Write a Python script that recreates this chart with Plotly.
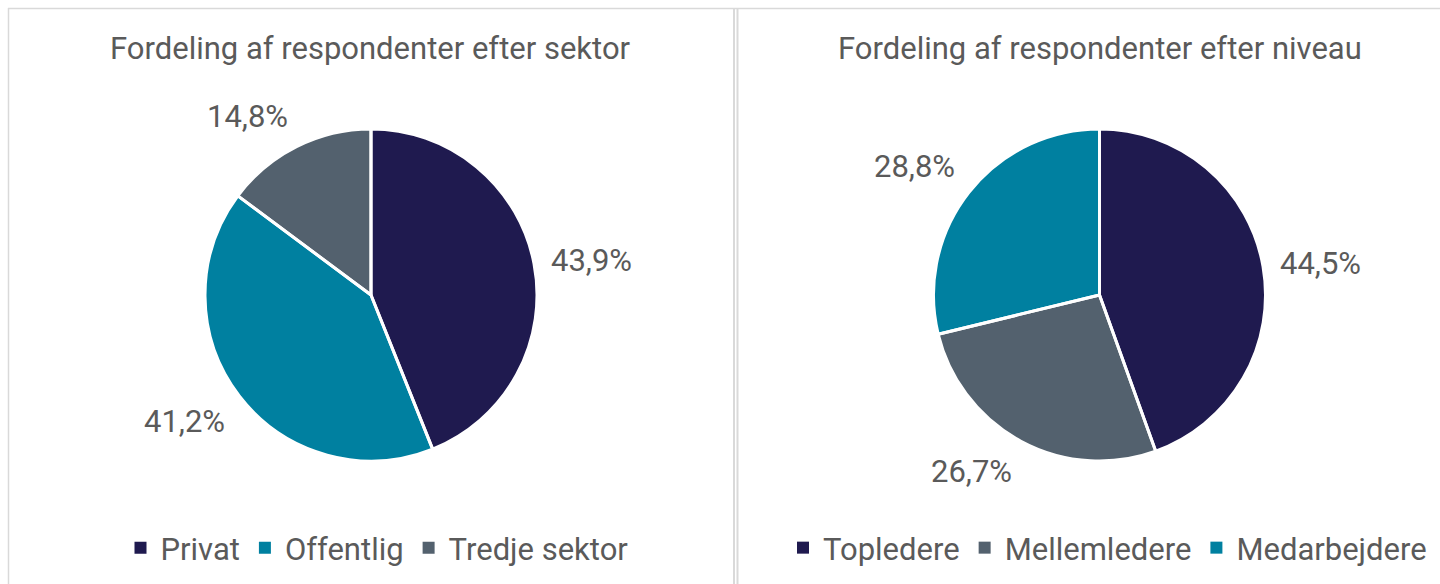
import math
import plotly.graph_objects as go

# Respondent shares (%)
sector_labels = ["Privat", "Offentlig", "Tredje sektor"]
sector_values = [43.9, 41.2, 14.8]
sector_colors = ["#1F1A4F", "#0080A0", "#53616E"]

level_labels = ["Topledere", "Mellemledere", "Medarbejdere"]
level_values = [44.5, 26.7, 28.8]
level_colors = ["#1F1A4F", "#53616E", "#0080A0"]

titles = ["Fordeling af respondenter efter sektor", "Fordeling af respondenter efter niveau"]

W, H = 1440, 584
FONT = "Roboto"
TXT = "#5A5A5A"
FS = 31
WEIGHT = 400
R = 166                      # pie radius in px
CENTERS = [(371, 295), (1099.5, 295)]
LEGEND_X = [377, 1107.5]

def fmt(v):
    return f"{v:.1f}".replace(".", ",") + "%"

def font():
    return dict(family=FONT, size=FS, color=TXT, weight=WEIGHT)

fig = go.Figure()
annotations = []

for i, (labels, values, colors) in enumerate(
        [(sector_labels, sector_values, sector_colors),
         (level_labels, level_values, level_colors)]):
    cx, cy = CENTERS[i]
    dom = dict(x=[(cx - R) / W, (cx + R) / W],
               y=[1 - (cy + R) / H, 1 - (cy - R) / H])
    # filled slices (no outline, so the legend swatches stay full size)
    fig.add_trace(go.Pie(
        labels=labels, values=values, sort=False, direction="clockwise",
        rotation=0, textinfo="none", hoverinfo="label+percent",
        marker=dict(colors=colors, line=dict(width=0)),
        domain=dom, legend="legend" if i == 0 else "legend2",
        showlegend=True,
    ))
    # white separators between slices
    fig.add_trace(go.Pie(
        labels=labels, values=values, sort=False, direction="clockwise",
        rotation=0, textinfo="none", hoverinfo="skip",
        marker=dict(colors=["rgba(0,0,0,0)"] * len(values),
                    line=dict(color="white", width=3)),
        domain=dom, showlegend=False,
    ))
    # value labels placed outside each slice at its mid-angle
    total = sum(values)
    cum = 0.0
    hw, hh = 41, 15
    gap = 17
    for v in values:
        mid = (cum + v / 2) / total * 2 * math.pi
        cum += v
        dx, dy = math.sin(mid), -math.cos(mid)
        px = cx + (R + gap) * dx
        py = cy + (R + gap) * dy
        ky = min(1.0, max(0.0, (abs(dy) - 0.25) / 0.25))
        tx = px + hw * (1 if dx >= 0 else -1)
        ty = py + hh * ky * (1 if dy >= 0 else -1)
        annotations.append(dict(
            x=tx / W, y=1 - ty / H, xref="paper", yref="paper",
            text=fmt(v), showarrow=False, xanchor="center", yanchor="middle",
            font=font()))
    annotations.append(dict(
        x=cx / W, y=1 - 48 / H, xref="paper", yref="paper", text=titles[i],
        showarrow=False, xanchor="center", yanchor="middle", font=font()))

legend_style = dict(orientation="h", xanchor="center", yanchor="middle",
                    y=1 - 548 / H, font=font(),
                    bgcolor="rgba(0,0,0,0)", traceorder="normal")

# panel frames
line_col = "#D9D9D9"
shapes = [
    dict(type="line", xref="paper", yref="paper", x0=8 / W, x1=1, y0=1 - 8.5 / H, y1=1 - 8.5 / H,
         line=dict(color=line_col, width=1.5)),
    dict(type="line", xref="paper", yref="paper", x0=8.5 / W, x1=8.5 / W, y0=0, y1=1 - 8 / H,
         line=dict(color=line_col, width=1.5)),
    dict(type="line", xref="paper", yref="paper", x0=734 / W, x1=734 / W, y0=0, y1=1 - 8 / H,
         line=dict(color=line_col, width=2)),
    dict(type="line", xref="paper", yref="paper", x0=737.5 / W, x1=737.5 / W, y0=0, y1=1 - 8 / H,
         line=dict(color=line_col, width=2)),
]

fig.update_layout(
    width=W, height=H, margin=dict(l=0, r=0, t=0, b=0),
    paper_bgcolor="white", plot_bgcolor="white",
    annotations=annotations, shapes=shapes,
    legend=dict(x=LEGEND_X[0] / W, **legend_style),
    legend2=dict(x=LEGEND_X[1] / W, **legend_style),
)

fig.write_html("out.html")
